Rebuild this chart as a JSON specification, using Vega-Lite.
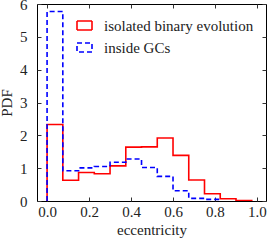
{
  "$schema": "https://vega.github.io/schema/vega-lite/v6.json",
  "width": 229,
  "height": 197,
  "autosize": "none",
  "padding": {"left": 37, "top": 4, "right": 8, "bottom": 39},
  "config": {
    "view": {"stroke": "#000", "strokeWidth": 1},
    "font": "Liberation Serif",
    "axis": {"labelFont": "Liberation Serif", "titleFont": "Liberation Serif", "labelFontSize": 15, "titleFontSize": 15, "titleFontWeight": "normal", "labelColor": "#222", "titleColor": "#222", "grid": false, "domainColor": "#000", "tickColor": "#333", "tickSize": -4, "domain": false},
    "legend": {"labelFont": "Liberation Serif", "labelFontSize": 15, "labelColor": "#222"}
  },
  "data": {"values": [
    {"series": "isolated binary evolution", "ord": 0, "x": 0, "pdf": 0},
    {"series": "isolated binary evolution", "ord": 1, "x": 0, "pdf": 2.33},
    {"series": "isolated binary evolution", "ord": 2, "x": 0.075, "pdf": 0.63},
    {"series": "isolated binary evolution", "ord": 3, "x": 0.15, "pdf": 0.87},
    {"series": "isolated binary evolution", "ord": 4, "x": 0.225, "pdf": 0.83},
    {"series": "isolated binary evolution", "ord": 5, "x": 0.3, "pdf": 1.07},
    {"series": "isolated binary evolution", "ord": 6, "x": 0.375, "pdf": 1.64},
    {"series": "isolated binary evolution", "ord": 7, "x": 0.45, "pdf": 1.65},
    {"series": "isolated binary evolution", "ord": 8, "x": 0.525, "pdf": 1.92},
    {"series": "isolated binary evolution", "ord": 9, "x": 0.6, "pdf": 1.39},
    {"series": "isolated binary evolution", "ord": 10, "x": 0.675, "pdf": 0.64},
    {"series": "isolated binary evolution", "ord": 11, "x": 0.75, "pdf": 0.22},
    {"series": "isolated binary evolution", "ord": 12, "x": 0.825, "pdf": 0.07},
    {"series": "isolated binary evolution", "ord": 13, "x": 0.9, "pdf": 0.015},
    {"series": "isolated binary evolution", "ord": 14, "x": 0.975, "pdf": 0},
    {"series": "inside GCs", "ord": 0, "x": 0, "pdf": 0},
    {"series": "inside GCs", "ord": 1, "x": 0, "pdf": 5.77},
    {"series": "inside GCs", "ord": 2, "x": 0.075, "pdf": 0.92},
    {"series": "inside GCs", "ord": 3, "x": 0.15, "pdf": 1.01},
    {"series": "inside GCs", "ord": 4, "x": 0.225, "pdf": 1.05},
    {"series": "inside GCs", "ord": 5, "x": 0.3, "pdf": 1.18},
    {"series": "inside GCs", "ord": 6, "x": 0.375, "pdf": 1.28},
    {"series": "inside GCs", "ord": 7, "x": 0.45, "pdf": 1.02},
    {"series": "inside GCs", "ord": 8, "x": 0.525, "pdf": 0.75},
    {"series": "inside GCs", "ord": 9, "x": 0.6, "pdf": 0.31},
    {"series": "inside GCs", "ord": 10, "x": 0.675, "pdf": 0.08},
    {"series": "inside GCs", "ord": 11, "x": 0.75, "pdf": 0.05},
    {"series": "inside GCs", "ord": 12, "x": 0.825, "pdf": 0}
  ]},
  "layer": [
    {
      "mark": {"type": "line", "interpolate": "step-after", "strokeWidth": 1.6, "clip": true},
      "encoding": {
        "x": {"field": "x", "type": "quantitative", "scale": {"domain": [-0.048, 1.043], "nice": false, "zero": false},
              "axis": {"orient": "bottom", "title": "eccentricity", "values": [0, 0.2, 0.4, 0.6, 0.8, 1.0], "format": ".1f", "labelPadding": 7, "titlePadding": 3, "labelFlush": false}},
        "y": {"field": "pdf", "type": "quantitative", "scale": {"domain": [0, 6], "nice": false},
              "axis": {"orient": "left", "title": "PDF", "values": [0, 1, 2, 3, 4, 5, 6], "format": "d", "labelPadding": 14, "titlePadding": 5, "labelFlush": false}},
        "color": {"field": "series", "type": "nominal", "title": null,
                  "scale": {"domain": ["isolated binary evolution", "inside GCs"], "range": ["#ff0000", "#0000ff"]},
                  "legend": {"orient": "none", "legendX": 39, "legendY": 13, "symbolType": "M-1,-0.6H1V0.6H-1Z", "symbolSize": 225, "symbolStrokeWidth": 1.6, "symbolFillColor": "transparent", "labelOffset": 11, "rowPadding": 5, "padding": 0}},
        "strokeDash": {"field": "series", "type": "nominal", "title": null,
                       "scale": {"domain": ["isolated binary evolution", "inside GCs"], "range": [[1, 0], [5, 3]]},
                       "legend": {"orient": "none", "legendX": 39, "legendY": 13, "symbolType": "M-1,-0.6H1V0.6H-1Z", "symbolSize": 225, "symbolStrokeWidth": 1.6, "symbolFillColor": "transparent", "labelOffset": 11, "rowPadding": 5, "padding": 0}},
        "order": {"field": "ord", "type": "quantitative"}
      }
    },
    {
      "mark": {"type": "line", "opacity": 0},
      "encoding": {
        "x": {"field": "x", "type": "quantitative", "axis": {"orient": "top", "title": null, "labels": false, "values": [0, 0.2, 0.4, 0.6, 0.8, 1.0]}},
        "y": {"field": "pdf", "type": "quantitative", "axis": {"orient": "right", "title": null, "labels": false, "values": [0, 1, 2, 3, 4, 5, 6]}},
        "detail": {"field": "series", "type": "nominal"}
      }
    }
  ],
  "resolve": {"axis": {"x": "independent", "y": "independent"}}
}
